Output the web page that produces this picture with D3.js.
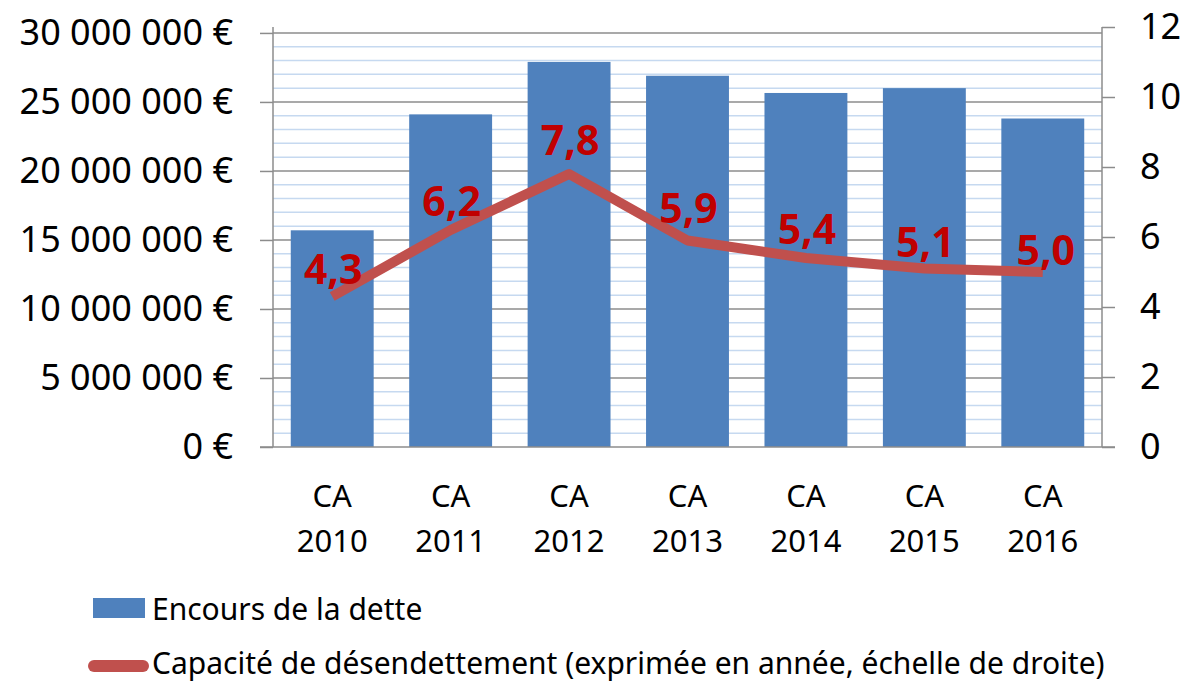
<!DOCTYPE html>
<html>
<head>
<meta charset="utf-8">
<script src="https://cdn.jsdelivr.net/npm/d3@7"></script>
<style>
  body { margin: 0; background: #fff; }
  svg text { font-family: "Noto Sans", "Open Sans", sans-serif; fill: #000; }
</style>
</head>
<body>
<svg id="chart" width="1189" height="682"></svg>
<script>
// data
const categories = ["CA 2010", "CA 2011", "CA 2012", "CA 2013", "CA 2014", "CA 2015", "CA 2016"];
const encours = [15700000, 24100000, 27900000, 26900000, 25650000, 26000000, 23800000];
const capacite = [4.3, 6.2, 7.8, 5.9, 5.4, 5.1, 5.0];
const leftTicks = [0, 5000000, 10000000, 15000000, 20000000, 25000000, 30000000];
const rightTicks = [0, 2, 4, 6, 8, 10, 12];
const seriesNames = ["Encours de la dette", "Capacité de désendettement (exprimée en année, échelle de droite)"];

const svg = d3.select("#chart");
const pLeft = 273, pRight = 1102, pTop = 27, pBottom = 447;
// label lift above each point (labels were nudged by hand in the original)
const labelLift = [13, 14, 19, 18, 14, 12, 7];

const x = d3.scaleBand()
  .domain(categories)
  .range([pLeft, pRight])
  .paddingInner(0.3)
  .paddingOuter(0.15);
const yL = d3.scaleLinear().domain([0, 30430000]).range([pBottom, pTop]);
const yR = d3.scaleLinear().domain([0, 12]).range([pBottom, pTop]);
const cx = d => x(d) + x.bandwidth() / 2;

// minor gridlines every 1 000 000
const minor = d3.range(1000000, 30430000, 1000000).filter(v => v % 5000000 != 0);
svg.append("g").selectAll("line").data(minor).join("line")
  .attr("x1", pLeft).attr("x2", pRight)
  .attr("y1", d => yL(d)).attr("y2", d => yL(d))
  .attr("stroke", "#c6d9f0").attr("stroke-width", 1.5);

// major gridlines
svg.append("g").selectAll("line").data(leftTicks.slice(1)).join("line")
  .attr("x1", pLeft).attr("x2", pRight)
  .attr("y1", d => yL(d)).attr("y2", d => yL(d))
  .attr("stroke", "#8c8c8c").attr("stroke-width", 1.5);

// bars
svg.append("g").selectAll("rect").data(encours).join("rect")
  .attr("x", (d, i) => x(categories[i]))
  .attr("width", x.bandwidth())
  .attr("y", d => yL(d))
  .attr("height", d => pBottom - yL(d))
  .attr("fill", "#4f81bd");

// left axis
const fmt = v => v == 0 ? "0 €" : d3.format(",")(v).replace(/,/g, " ") + " €";
const axL = svg.append("g")
  .attr("transform", "translate(" + pLeft + ",0)")
  .call(d3.axisLeft(yL).tickValues(leftTicks).tickSize(13).tickPadding(27).tickFormat(fmt));
axL.select(".domain").attr("d", "M0," + pTop + "V" + pBottom);

// right axis
const axR = svg.append("g")
  .attr("transform", "translate(" + pRight + ",0)")
  .call(d3.axisRight(yR).tickValues(rightTicks).tickSize(13).tickPadding(25));
axR.select(".domain").attr("d", "M0," + pTop + "V" + pBottom);

[axL, axR].forEach(ax => {
  ax.selectAll(".domain, .tick line").attr("stroke", "#8c8c8c").attr("stroke-width", 1.5);
  ax.selectAll("text").attr("font-size", 36).attr("fill", "#000");
});

// bottom axis line
svg.append("line")
  .attr("x1", pLeft - 13).attr("x2", pRight + 13)
  .attr("y1", pBottom).attr("y2", pBottom)
  .attr("stroke", "#8c8c8c").attr("stroke-width", 1.5);

// category labels
const catG = svg.append("g").selectAll("text").data(categories).join("text")
  .attr("text-anchor", "middle")
  .attr("font-size", 31);
catG.append("tspan").attr("x", cx).attr("y", 507).text(d => d.split(" ")[0]);
catG.append("tspan").attr("x", cx).attr("y", 552).text(d => d.split(" ")[1]);

// line
const line = d3.line()
  .x((d, i) => cx(categories[i]))
  .y(d => yR(d));
svg.append("path")
  .datum(capacite)
  .attr("d", line)
  .attr("fill", "none")
  .attr("stroke", "#c0504d")
  .attr("stroke-width", 10)
  .attr("stroke-linejoin", "round");

// value labels
svg.append("g").selectAll("text").data(capacite).join("text")
  .attr("x", (d, i) => cx(categories[i]) + (i == 6 ? 3 : 1))
  .attr("y", (d, i) => yR(d) - labelLift[i])
  .attr("text-anchor", "middle")
  .attr("font-size", 41)
  .attr("font-weight", "bold")
  .style("fill", "#c00000")
  .text(d => d3.format(".1f")(d).replace(".", ","));

// legend
const lg = svg.append("g");
lg.append("rect").attr("x", 93).attr("y", 598).attr("width", 52).attr("height", 20).attr("fill", "#4f81bd");
lg.append("text").attr("x", 152).attr("y", 620).attr("font-size", 30).text(seriesNames[0]);
lg.append("line").attr("x1", 94).attr("x2", 143).attr("y1", 666).attr("y2", 666)
  .attr("stroke", "#c0504d").attr("stroke-width", 12).attr("stroke-linecap", "round");
lg.append("text").attr("x", 152).attr("y", 674).attr("font-size", 30).text(seriesNames[1]);
</script>
</body>
</html>
